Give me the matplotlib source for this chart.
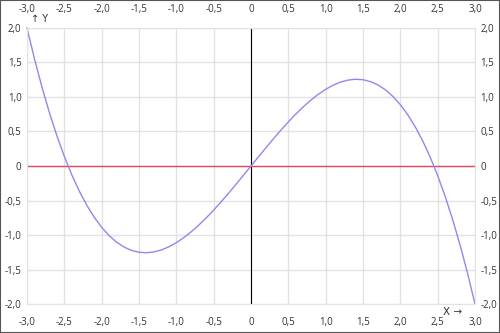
import numpy as np
import matplotlib.pyplot as plt
from matplotlib.patches import Rectangle

# curve values, x step 0.1
x_vals = [round(-3.0 + 0.1 * i, 1) for i in range(61)]
y_neg = [2.000, 1.553, 1.145, 0.774, 0.439, 0.139, -0.128, -0.363, -0.567, -0.742,
         -0.889, -1.009, -1.104, -1.175, -1.223, -1.250, -1.257, -1.245, -1.216, -1.171,
         -1.111, -1.038, -0.953, -0.857, -0.752, -0.639, -0.519, -0.394, -0.265, -0.133]
y_vals = y_neg + [0.0] + [-v for v in y_neg[::-1]]

x_ticks = [-3.0, -2.5, -2.0, -1.5, -1.0, -0.5, 0, 0.5, 1.0, 1.5, 2.0, 2.5, 3.0]
y_ticks = [-2.0, -1.5, -1.0, -0.5, 0, 0.5, 1.0, 1.5, 2.0]


def fmt(v):
    if v == 0:
        return "0"
    return f"{v:.1f}".replace(".", ",")


plt.rcParams['font.family'] = ['Open Sans', 'DejaVu Sans']

fig = plt.figure(figsize=(5, 3.33), dpi=100)
ax = fig.add_axes([0.054, 0.087, 0.896, 0.829])

ax.set_xlim(-3, 3)
ax.set_ylim(-2, 2)
ax.set_xticks(x_ticks)
ax.set_yticks(y_ticks)
ax.grid(True, color='#e2e2e2', linewidth=1)
ax.set_axisbelow(True)
for s in ax.spines.values():
    s.set_color('#e2e2e2')

ax.tick_params(axis='both', length=0, labelsize=7, labelcolor='#333333',
               top=True, labeltop=True, right=True, labelright=True)
ax.tick_params(axis='x', pad=9.5)
ax.tick_params(axis='y', pad=4)
ax.set_xticklabels([fmt(v) for v in x_ticks])
ax.set_yticklabels([fmt(v) for v in y_ticks])

ax.axvline(0, color='black', linewidth=0.8)
ax.axhline(0, color='#e04a60', linewidth=1.0)
ax.plot(x_vals, y_vals, color='#9487ea', linewidth=1.0, clip_on=False)

fig.text(0.062, 0.943, "↑ Y", fontsize=7, color='#333333', va='center',
         family=['DejaVu Sans'])
fig.text(0.906, 0.062, "X →", fontsize=7.5, color='#333333', va='center',
         ha='center', family=['DejaVu Sans'])

fig.patches.append(Rectangle((0, 0), 1, 1, transform=fig.transFigure,
                             fill=False, edgecolor='#555555', linewidth=1.5))

fig.savefig('out.png', dpi=100)
